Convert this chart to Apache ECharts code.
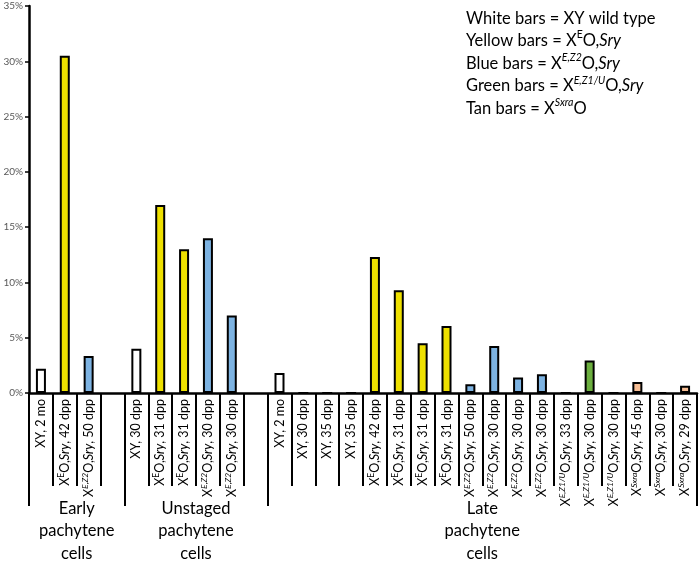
<!DOCTYPE html>
<html><head><meta charset="utf-8">
<script src="https://cdn.jsdelivr.net/npm/echarts@6/dist/echarts.min.js"></script>
<style>html,body{margin:0;padding:0;background:#fff}#c{width:700px;height:561px}</style>
</head><body><div id="c"></div>
<script>
// ---- data ----
const groupNames = ['Early\npachytene\ncells', 'Unstaged\npachytene\ncells', 'Late\npachytene\ncells'];
const groupSizes = [4, 6, 18];
const genotypes = ['XY','E','EZ2','',
  'XY','E','E','EZ2','EZ2','',
  'XY','XY','XY','XY','E','E','E','E','EZ2','EZ2','EZ2','EZ2','EZ1U','EZ1U','EZ1U','Sxra','Sxra','Sxra'];
const ages = ['2 mo','42 dpp','50 dpp','',
  '30 dpp','31 dpp','31 dpp','30 dpp','30 dpp','',
  '2 mo','30 dpp','35 dpp','35 dpp','42 dpp','31 dpp','31 dpp','31 dpp','50 dpp','30 dpp','30 dpp','30 dpp','33 dpp','30 dpp','30 dpp','45 dpp','30 dpp','29 dpp'];
const values = [2.2, 30.5, 3.35, null,
  4.0, 17.0, 13.0, 14.0, 7.0, null,
  1.8, 0, 0, 0, 12.3, 9.3, 4.5, 6.05, 0.8, 4.25, 1.4, 1.7, 0, 2.95, 0, 1.0, 0, 0.65];
const yMin = 0, yMax = 35, yStep = 5;
const genoText = {
  XY: 'XY',
  E: 'X{sup|E}O,{it|Sry}',
  EZ2: 'X{supi|E,Z2}O,{it|Sry}',
  EZ1U: 'X{supi|E,Z1/U}O,{it|Sry}',
  Sxra: 'X{supi|Sxra}O,{it|Sry}'
};
const genoColor = { XY: '#FFFFFF', E: '#EEE000', EZ2: '#7DB3E2', EZ1U: '#6CAF3F', Sxra: '#F7BE95' };
const legendLines = [
  'White bars = XY wild type',
  'Yellow bars = X{lsup|E}O,{lit|Sry}',
  'Blue bars = X{lsupi|E,Z2}O,{lit|Sry}',
  'Green bars = X{lsupi|E,Z1/U}O,{lit|Sry}',
  'Tan bars = X{lsupi|Sxra}O'
];

// ---- build ----
const FONT = 'Lato, "Open Sans", sans-serif';
const categories = genotypes.map((g, i) => g ? genoText[g] + ', ' + ages[i] : '');
const boundaries = [];
groupSizes.reduce((acc, n) => { boundaries.push(acc); return acc + n; }, 0);

const chart = echarts.init(document.getElementById('c'), null, { renderer: 'canvas' });
const labelRich = {
  sup: { fontSize: 8.5, lineHeight: 8, verticalAlign: 'top', color: '#000', fontFamily: FONT },
  supi: { fontSize: 8.5, lineHeight: 8, verticalAlign: 'top', fontStyle: 'italic', color: '#000', fontFamily: FONT },
  it: { fontSize: 12.5, fontStyle: 'italic', color: '#000', fontFamily: FONT }
};
chart.setOption({
  animation: false,
  backgroundColor: '#fff',
  grid: { left: 29, right: 3, top: 6, bottom: 168, containLabel: false },
  xAxis: [{
    type: 'category',
    data: categories,
    position: 'bottom',
    boundaryGap: true,
    axisLine: { show: true, lineStyle: { color: '#000', width: 2.5 } },
    axisTick: { show: true, interval: 0, length: 93, lineStyle: { color: '#000', width: 2 } },
    axisLabel: {
      interval: 0, rotate: 90, margin: 6, fontSize: 12.5, lineHeight: 16,
      color: '#000', fontFamily: FONT, rich: labelRich
    },
    splitLine: { show: false }
  }, {
    type: 'category',
    data: categories,
    position: 'bottom',
    boundaryGap: true,
    axisLine: { show: false },
    axisTick: {
      show: true, length: 113,
      interval: (idx) => boundaries.indexOf(idx) >= 0,
      lineStyle: { color: '#000', width: 2 }
    },
    axisLabel: { show: false },
    splitLine: { show: false }
  }],
  yAxis: {
    type: 'value', min: yMin, max: yMax, interval: yStep,
    axisLine: { show: true, lineStyle: { color: '#000', width: 2.5 } },
    axisTick: { show: true, length: 4, lineStyle: { color: '#000', width: 1.5 } },
    axisLabel: { formatter: '{value}%', color: '#595959', fontSize: 10, margin: 6, fontFamily: FONT },
    splitLine: { show: false }
  },
  series: [{
    type: 'bar',
    xAxisIndex: 0,
    barWidth: 10,
    data: values.map((v, i) => ({
      value: v,
      itemStyle: { color: genoColor[genotypes[i]] || '#fff', borderColor: '#000', borderWidth: 2 }
    }))
  }],
  graphic: [{
    type: 'text', left: 466, top: 7,
    style: {
      text: legendLines.join('\n'),
      font: '16.5px ' + FONT, fill: '#000', lineHeight: 22.6,
      rich: {
        lsup: { fontSize: 10.5, lineHeight: 11, verticalAlign: 'top', fill: '#000', fontFamily: FONT },
        lsupi: { fontSize: 10.5, lineHeight: 11, verticalAlign: 'top', fontStyle: 'italic', fill: '#000', fontFamily: FONT },
        lit: { fontSize: 16.5, fontStyle: 'italic', lineHeight: 22.6, fill: '#000', fontFamily: FONT }
      }
    }
  }]
});

// group labels centered under each group
const groupGraphics = [];
let start = 0;
groupSizes.forEach((n, gi) => {
  const x0 = chart.convertToPixel({ xAxisIndex: 0 }, start);
  const x1 = chart.convertToPixel({ xAxisIndex: 0 }, start + n - 1);
  groupGraphics.push({
    type: 'text',
    x: (x0 + x1) / 2, y: 497,
    style: {
      text: groupNames[gi], font: '16.5px ' + FONT, fill: '#000',
      align: 'center', verticalAlign: 'top', lineHeight: 22.5
    }
  });
  start += n;
});
chart.setOption({ graphic: chart.getOption().graphic[0].elements.concat(groupGraphics) });
</script>
</body></html>
